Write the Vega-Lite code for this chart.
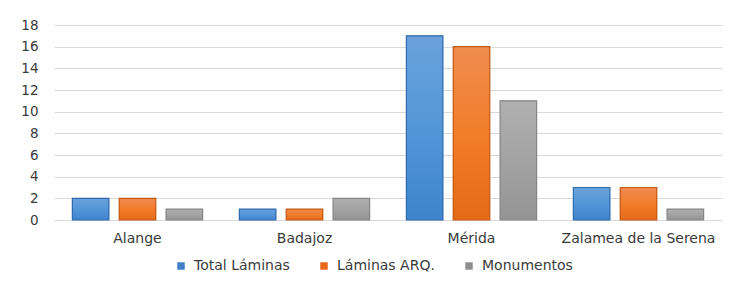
{
  "$schema": "https://vega.github.io/schema/vega-lite/v6.json",
  "width": 668,
  "height": 195,
  "autosize": {"type": "none"},
  "padding": {"left": 54, "top": 25, "right": 11, "bottom": 64},
  "background": "white",
  "config": {
    "view": {"stroke": null},
    "font": "DejaVu Sans",
    "axis": {"labelFont": "DejaVu Sans", "labelColor": "#3A3A3A", "labelFontSize": 13}
  },
  "data": {
    "values": [
      {"lugar": "Alange", "serie": "Total Láminas", "valor": 2},
      {"lugar": "Alange", "serie": "Láminas ARQ.", "valor": 2},
      {"lugar": "Alange", "serie": "Monumentos", "valor": 1},
      {"lugar": "Badajoz", "serie": "Total Láminas", "valor": 1},
      {"lugar": "Badajoz", "serie": "Láminas ARQ.", "valor": 1},
      {"lugar": "Badajoz", "serie": "Monumentos", "valor": 2},
      {"lugar": "Mérida", "serie": "Total Láminas", "valor": 17},
      {"lugar": "Mérida", "serie": "Láminas ARQ.", "valor": 16},
      {"lugar": "Mérida", "serie": "Monumentos", "valor": 11},
      {"lugar": "Zalamea de la Serena", "serie": "Total Láminas", "valor": 3},
      {"lugar": "Zalamea de la Serena", "serie": "Láminas ARQ.", "valor": 3},
      {"lugar": "Zalamea de la Serena", "serie": "Monumentos", "valor": 1}
    ]
  },
  "encoding": {
    "x": {
      "field": "lugar", "type": "nominal", "sort": null,
      "scale": {"paddingInner": 0.22, "paddingOuter": 0.11},
      "axis": {"title": null, "labelAngle": 0, "ticks": false, "domain": false, "labelPadding": 11, "labelFontSize": 14}
    },
    "xOffset": {
      "field": "serie", "type": "nominal",
      "sort": ["Total Láminas", "Láminas ARQ.", "Monumentos"],
      "scale": {"paddingInner": 0.22, "paddingOuter": 0}
    },
    "y": {
      "field": "valor", "type": "quantitative",
      "scale": {"domain": [0, 18]},
      "axis": {"title": null, "values": [0, 2, 4, 6, 8, 10, 12, 14, 16, 18], "ticks": false, "domain": false, "labelPadding": 16, "gridColor": "#D9D9D9", "gridWidth": 1, "labelFontSize": 13.5}
    }
  },
  "layer": [
    {
      "mark": {"type": "bar"},
      "encoding": {
        "color": {
          "field": "serie", "type": "nominal",
          "sort": ["Total Láminas", "Láminas ARQ.", "Monumentos"],
          "scale": {"domain": ["Total Láminas", "Láminas ARQ.", "Monumentos"], "range": ["#3F7FC6", "#E8691A", "#8E8E8E"]},
          "legend": {
            "title": null, "orient": "none", "direction": "horizontal",
            "legendX": 120, "legendY": 234,
            "symbolType": "square", "symbolSize": 56, "symbolStrokeWidth": 0,
            "labelFontSize": 14, "labelColor": "#3A3A3A", "labelFont": "DejaVu Sans",
            "labelOffset": 6, "columnPadding": 27
          }
        }
      }
    },
    {
      "transform": [{"filter": "datum.serie === 'Total Láminas'"}],
      "mark": {
        "type": "bar", "stroke": "#2F6AAE", "strokeWidth": 1.2,
        "fill": {"gradient": "linear", "x1": 0, "y1": 0, "x2": 0, "y2": 1,
          "stops": [{"offset": 0, "color": "#6AA2DB"}, {"offset": 0.5, "color": "#5396D8"}, {"offset": 1, "color": "#3F83CB"}]}
      },
      "encoding": {}
    },
    {
      "transform": [{"filter": "datum.serie === 'Láminas ARQ.'"}],
      "mark": {
        "type": "bar", "stroke": "#C25A14", "strokeWidth": 1.2,
        "fill": {"gradient": "linear", "x1": 0, "y1": 0, "x2": 0, "y2": 1,
          "stops": [{"offset": 0, "color": "#F08C50"}, {"offset": 0.5, "color": "#F27D2A"}, {"offset": 1, "color": "#E46A18"}]}
      },
      "encoding": {}
    },
    {
      "transform": [{"filter": "datum.serie === 'Monumentos'"}],
      "mark": {
        "type": "bar", "stroke": "#868686", "strokeWidth": 1.2,
        "fill": {"gradient": "linear", "x1": 0, "y1": 0, "x2": 0, "y2": 1,
          "stops": [{"offset": 0, "color": "#B0B0B0"}, {"offset": 0.5, "color": "#A3A3A3"}, {"offset": 1, "color": "#949494"}]}
      },
      "encoding": {}
    }
  ]
}
